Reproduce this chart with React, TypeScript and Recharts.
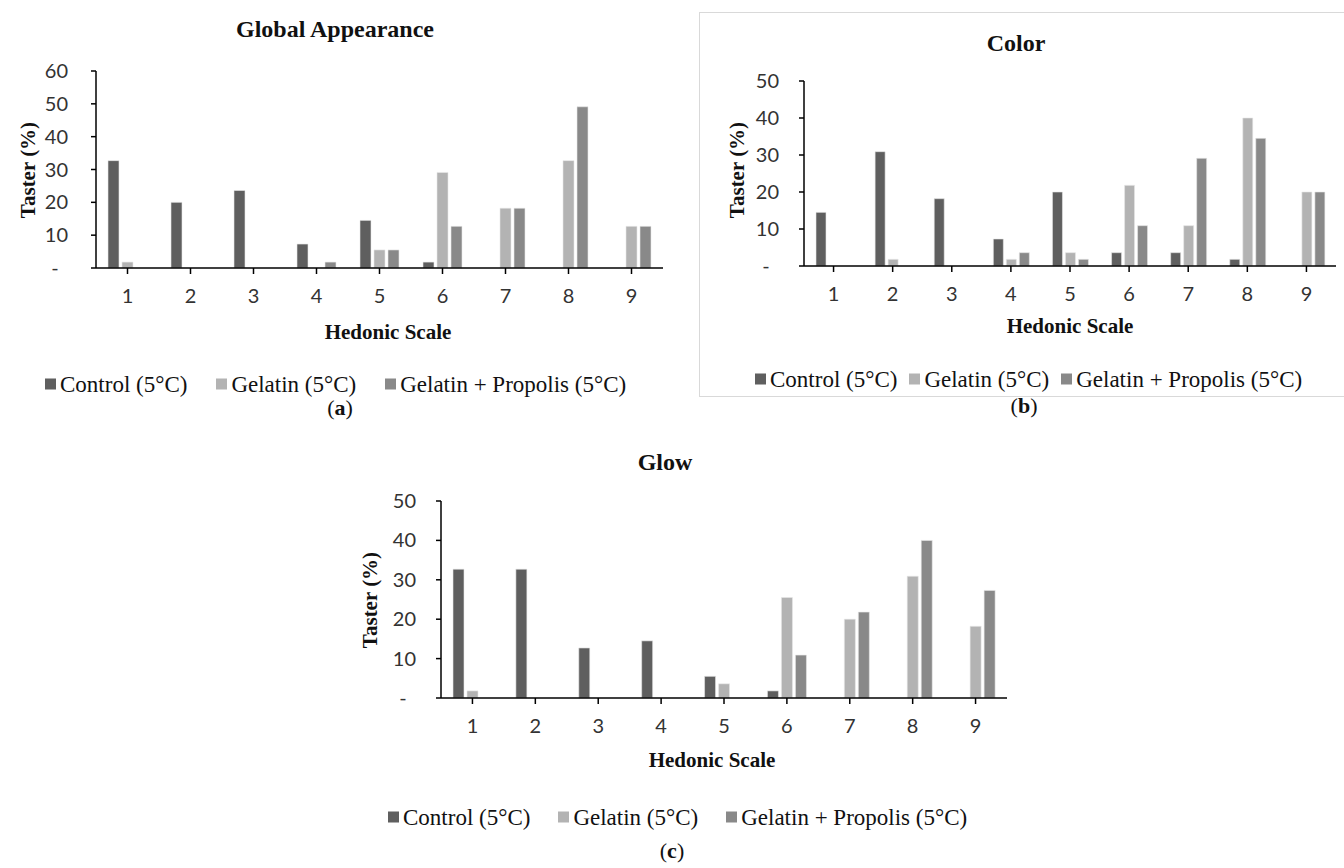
import React from 'react';
import { BarChart, Bar, XAxis, YAxis } from 'recharts';

const categories = ['1', '2', '3', '4', '5', '6', '7', '8', '9'];
const seriesNames = ['Control (5°C)', 'Gelatin (5°C)', 'Gelatin + Propolis (5°C)'];

const appearanceControl = [32.7, 20, 23.6, 7.3, 14.5, 1.8, 0, 0, 0];
const appearanceGelatin = [1.8, 0, 0, 0, 5.5, 29.1, 18.2, 32.7, 12.7];
const appearancePropolis = [0, 0, 0, 1.8, 5.5, 12.7, 18.2, 49.1, 12.7];

const colorControl = [14.5, 30.9, 18.2, 7.3, 20, 3.6, 3.6, 1.8, 0];
const colorGelatin = [0, 1.8, 0, 1.8, 3.6, 21.8, 10.9, 40, 20];
const colorPropolis = [0, 0, 0, 3.6, 1.8, 10.9, 29.1, 34.5, 20];

const glowControl = [32.7, 32.7, 12.7, 14.5, 5.5, 1.8, 0, 0, 0];
const glowGelatin = [1.8, 0, 0, 0, 3.6, 25.5, 20, 30.9, 18.2];
const glowPropolis = [0, 0, 0, 0, 0, 10.9, 21.8, 40, 27.3];

const ticks60 = [0, 10, 20, 30, 40, 50, 60];
const ticks50 = [0, 10, 20, 30, 40, 50];

const COLORS = ['#5f5f5f', '#b3b3b3', '#898989'];

const build = (a: number[], b: number[], c: number[]) =>
  categories.map((scale, i) => ({ scale, control: a[i], gelatin: b[i], propolis: c[i] }));

const TICK_FONT = 'Lato, "Open Sans", sans-serif';
const SERIF = '"Liberation Serif", "Times New Roman", serif';

const YTick = (props: any) => {
  const { x, y, payload } = props;
  if (payload.value === 0) {
    return (
      <text x={x - 13} y={y} dy="0.35em" textAnchor="middle" fill="#333" fontSize={20} fontFamily={TICK_FONT}>
        -
      </text>
    );
  }
  return (
    <text x={x} y={y} dy="0.35em" textAnchor="end" fill="#333" fontSize={20} fontFamily={TICK_FONT}>
      {payload.value}
    </text>
  );
};

type PanelProps = {
  data: any[];
  left: number;
  top: number;
  width: number;
  height: number;
  x0: number;
  x1: number;
  y0: number;
  y1: number;
  yMax: number;
  ticks: number[];
  barSize: number;
  yGap: number;
};

const Panel = (p: PanelProps) => {
  const xAxisH = 40;
  const margin = {
    top: p.y0 - p.top,
    left: 0,
    right: p.left + p.width - p.x1,
    bottom: p.top + p.height - p.y1 - xAxisH,
  };
  return (
    <div style={{ position: 'absolute', left: p.left, top: p.top }}>
      <BarChart width={p.width} height={p.height} data={p.data} margin={margin} barGap={3} barSize={p.barSize}>
        <XAxis
          dataKey="scale"
          height={xAxisH}
          tickSize={6}
          tickMargin={15}
          axisLine={{ stroke: '#000', strokeWidth: 1.5 }}
          tickLine={{ stroke: '#000', strokeWidth: 1.5 }}
          tick={{ fill: '#333', fontSize: 20, fontFamily: TICK_FONT }}
          interval={0}
        />
        <YAxis
          type="number"
          domain={[0, p.yMax]}
          ticks={p.ticks}
          width={p.x0 - p.left}
          tickSize={5}
          tickMargin={p.yGap}
          axisLine={{ stroke: '#000', strokeWidth: 1.5 }}
          tickLine={{ stroke: '#000', strokeWidth: 1.5 }}
          tick={<YTick />}
          interval={0}
        />
        <Bar dataKey="control" name={seriesNames[0]} fill={COLORS[0]} stroke="#e8e8e8" strokeWidth={0.6} isAnimationActive={false} />
        <Bar dataKey="gelatin" name={seriesNames[1]} fill={COLORS[1]} stroke="#e8e8e8" strokeWidth={0.6} isAnimationActive={false} />
        <Bar dataKey="propolis" name={seriesNames[2]} fill={COLORS[2]} stroke="#e8e8e8" strokeWidth={0.6} isAnimationActive={false} />
      </BarChart>
    </div>
  );
};

const Centered = ({ x, y, children, style }: { x: number; y: number; children: any; style?: any }) => (
  <div
    style={{
      position: 'absolute',
      left: x,
      top: y,
      transform: 'translate(-50%, -50%)',
      whiteSpace: 'nowrap',
      lineHeight: 1,
      ...style,
    }}
  >
    {children}
  </div>
);

const Title = ({ x, y, text }: { x: number; y: number; text: string }) => (
  <Centered x={x} y={y} style={{ fontFamily: SERIF, fontWeight: 'bold', fontSize: 24, color: '#111' }}>
    {text}
  </Centered>
);

const AxisTitle = ({ x, y, text, rotate }: { x: number; y: number; text: string; rotate?: boolean }) => (
  <div
    style={{
      position: 'absolute',
      left: x,
      top: y,
      transform: `translate(-50%, -50%)${rotate ? ' rotate(-90deg)' : ''}`,
      whiteSpace: 'nowrap',
      lineHeight: 1,
      fontFamily: SERIF,
      fontWeight: 'bold',
      fontSize: 21,
      color: '#111',
    }}
  >
    {text}
  </div>
);

const LegendRow = ({ x, y, gap }: { x: number; y: number; gap: number }) => (
  <div
    style={{
      position: 'absolute',
      left: x,
      top: y,
      transform: 'translateY(-50%)',
      display: 'flex',
      alignItems: 'center',
      whiteSpace: 'nowrap',
      lineHeight: 1,
      fontFamily: SERIF,
      fontSize: 23,
      color: '#111',
    }}
  >
    {seriesNames.map((n, i) => (
      <div key={n} style={{ display: 'flex', alignItems: 'center', marginLeft: i === 0 ? 0 : gap }}>
        <span style={{ display: 'inline-block', width: 11, height: 11, background: COLORS[i], marginRight: 4 }} />
        <span>{n}</span>
      </div>
    ))}
  </div>
);

const SubLabel = ({ x, y, letter }: { x: number; y: number; letter: string }) => (
  <Centered x={x} y={y} style={{ fontFamily: SERIF, fontSize: 22, color: '#111' }}>
    (<b>{letter}</b>)
  </Centered>
);

export default function App() {
  return (
    <div style={{ position: 'absolute', left: 0, top: 0, width: 1344, height: 868, background: '#fff', overflow: 'hidden' }}>
      {/* box around panel b */}
      <div
        style={{
          position: 'absolute',
          left: 699,
          top: 12,
          width: 650,
          height: 385,
          border: '1px solid #d9d9d9',
          boxSizing: 'border-box',
        }}
      />

      {/* Panel a */}
      <Panel
        data={build(appearanceControl, appearanceGelatin, appearancePropolis)}
        left={0}
        top={0}
        width={700}
        height={420}
        x0={96}
        x1={663}
        y0={71}
        y1={268}
        yMax={60}
        ticks={ticks60}
        barSize={11}
        yGap={23}
      />
      <Title x={335} y={29} text="Global Appearance" />
      <AxisTitle x={28} y={170} text="Taster (%)" rotate />
      <AxisTitle x={388} y={332} text="Hedonic Scale" />
      <LegendRow x={45} y={384} gap={29} />
      <SubLabel x={340} y={408} letter="a" />

      {/* Panel b */}
      <Panel
        data={build(colorControl, colorGelatin, colorPropolis)}
        left={700}
        top={0}
        width={644}
        height={400}
        x0={804}
        x1={1336}
        y0={81}
        y1={266}
        yMax={50}
        ticks={ticks50}
        barSize={10}
        yGap={20}
      />
      <Title x={1016} y={43} text="Color" />
      <AxisTitle x={737} y={170} text="Taster (%)" rotate />
      <AxisTitle x={1070} y={326} text="Hedonic Scale" />
      <LegendRow x={755} y={379} gap={12} />
      <SubLabel x={1024} y={406} letter="b" />

      {/* Panel c */}
      <Panel
        data={build(glowControl, glowGelatin, glowPropolis)}
        left={330}
        top={440}
        width={720}
        height={428}
        x0={441}
        x1={1007}
        y0={501}
        y1={698}
        yMax={50}
        ticks={ticks50}
        barSize={11}
        yGap={20}
      />
      <Title x={665} y={462} text="Glow" />
      <AxisTitle x={370} y={600} text="Taster (%)" rotate />
      <AxisTitle x={712} y={760} text="Hedonic Scale" />
      <LegendRow x={388} y={817} gap={28} />
      <SubLabel x={672} y={851} letter="c" />
    </div>
  );
}
